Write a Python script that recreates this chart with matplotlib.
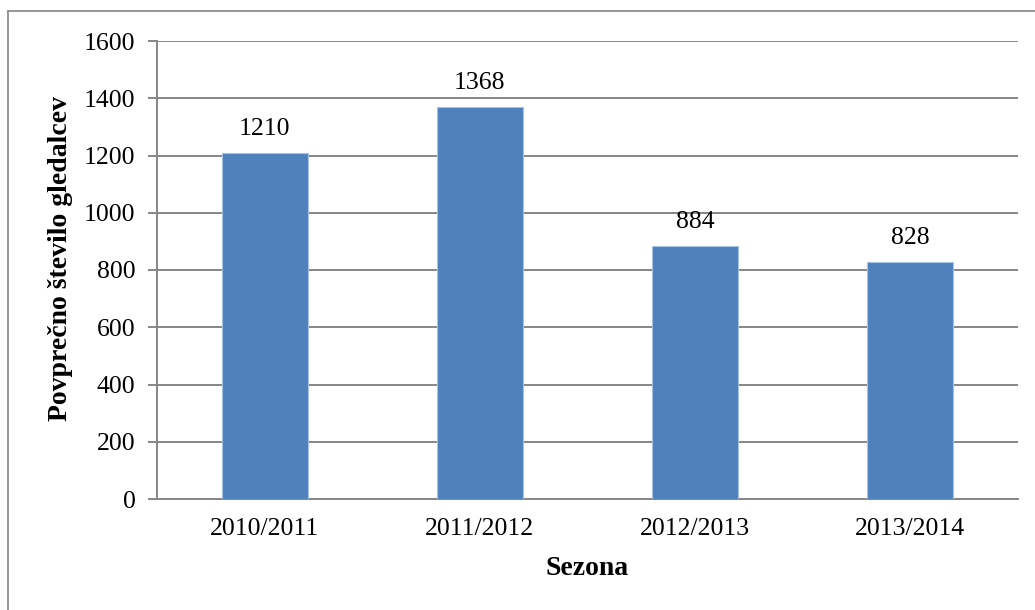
import matplotlib.pyplot as plt
from matplotlib.lines import Line2D

plt.rcParams['font.family'] = ['Liberation Serif', 'DejaVu Serif']

seasons = ["2010/2011", "2011/2012", "2012/2013", "2013/2014"]
spectators = [1210, 1368, 884, 828]
y_ticks = [0, 200, 400, 600, 800, 1000, 1200, 1400, 1600]

bar_color = "#4f81bd"
grid_color = "#868686"

fig = plt.figure(figsize=(10.35, 6.1), dpi=100)
ax = fig.add_axes([157 / 1035, 111 / 610, 861 / 1035, 458 / 610])

x = range(len(seasons))
bars = ax.bar(x, spectators, width=0.4, color=bar_color,
              edgecolor="#a7c1e2", linewidth=0.8, zorder=3)

for rect, val in zip(bars, spectators):
    ax.annotate(str(val), (rect.get_x() + rect.get_width() / 2, val),
                xytext=(0, 13), textcoords="offset points",
                ha="center", va="baseline", fontsize=18.5)

ax.set_xlim(-0.5, len(seasons) - 0.5)
ax.set_ylim(0, 1600)
ax.set_yticks(y_ticks)
ax.set_xticks(list(x))
ax.set_xticklabels(seasons)
ax.tick_params(axis="y", length=6.5, width=1.4, color=grid_color,
               labelsize=18.5, pad=9)
ax.tick_params(axis="x", length=0, labelsize=18.5, pad=14)

ax.yaxis.grid(True, color=grid_color, linewidth=1.4, zorder=0)
ax.set_axisbelow(True)
for side in ["top", "right"]:
    ax.spines[side].set_visible(False)
for side in ["left", "bottom"]:
    ax.spines[side].set_color(grid_color)
    ax.spines[side].set_linewidth(1.4)

ax.set_xlabel("Sezona", fontsize=20, fontweight="bold")
ax.xaxis.set_label_coords(0.5, -0.124)
ax.set_ylabel("Povprečno število gledalcev", fontsize=20, fontweight="bold")
ax.yaxis.set_label_coords(-0.097, 0.526)

# chart area frame (left and top edges)
fx = 8 / 1035
fy = 1 - 11 / 610
fig.add_artist(Line2D([fx, fx], [0, fy], transform=fig.transFigure,
                      color="#8c8c8c", linewidth=1.3))
fig.add_artist(Line2D([fx, 1], [fy, fy], transform=fig.transFigure,
                      color="#8c8c8c", linewidth=1.3))

fig.savefig("out.png", dpi=100)
